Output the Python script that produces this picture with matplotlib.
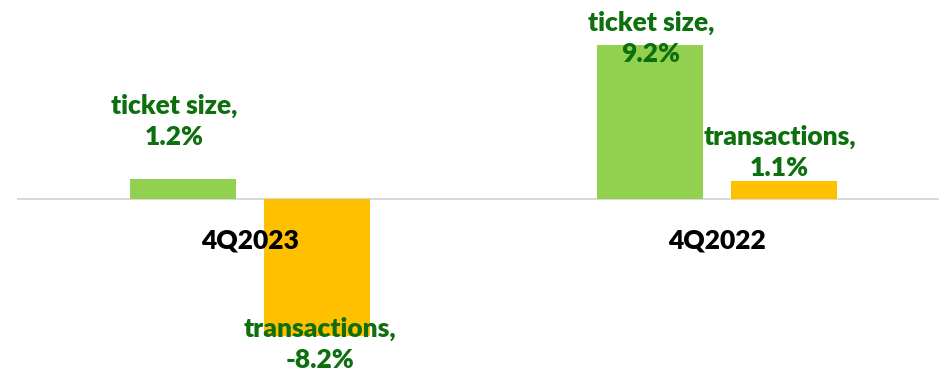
import numpy as np
import matplotlib.pyplot as plt

# data
quarters = ['4Q2023', '4Q2022']
ticket_size = [1.2, 9.2]
transactions = [-8.2, 1.1]

green = '#92D050'
orange = '#FFC000'
label_green = '#0E6F0E'

fig = plt.figure(figsize=(9.39, 3.75), dpi=100)
ax = fig.add_axes([17 / 939, 0, 922 / 939, 1])

x = np.arange(len(quarters))
w = 0.227
off = 0.1436
b1 = ax.bar(x - off, ticket_size, w, color=green)
b2 = ax.bar(x + off, transactions, w, color=orange)

ax.set_xlim(-0.5, -0.5 + 922 / 466.5)
ax.set_ylim(-176 / 16.7, 199 / 16.7)
ax.axhline(0, color='#D9D9D9', lw=1.5, zorder=0)
ax.axis('off')

plt.rcParams['font.family'] = ['Lato', 'DejaVu Sans']

# label offsets in pixels (dx, dy) from bar end, picked by eye
lab_off = {
    ('ticket size', 0): (-9, 58),
    ('ticket size', 1): (1, 7),
    ('transactions', 0): (3, -8),
    ('transactions', 1): (-4, 28),
}

for name, bars, vals in [('ticket size', b1, ticket_size), ('transactions', b2, transactions)]:
    for i, (bar, v) in enumerate(zip(bars, vals)):
        dx, dy = lab_off[(name, i)]
        xc = bar.get_x() + bar.get_width() / 2
        ax.annotate(f'{name},\n{v:.1f}%', (xc, v), xytext=(dx * 0.72, dy * 0.72),
                    textcoords='offset points', ha='center', va='center',
                    fontsize=19, fontweight='heavy', color=label_green,
                    linespacing=1.35, zorder=5)

for i, q in enumerate(quarters):
    ax.annotate(q, (x[i], 0), xytext=(0, -41 * 0.72), textcoords='offset points',
                ha='center', va='center', fontsize=19, fontweight='heavy',
                color='black', zorder=5)

fig.savefig('out.png', dpi=100)
